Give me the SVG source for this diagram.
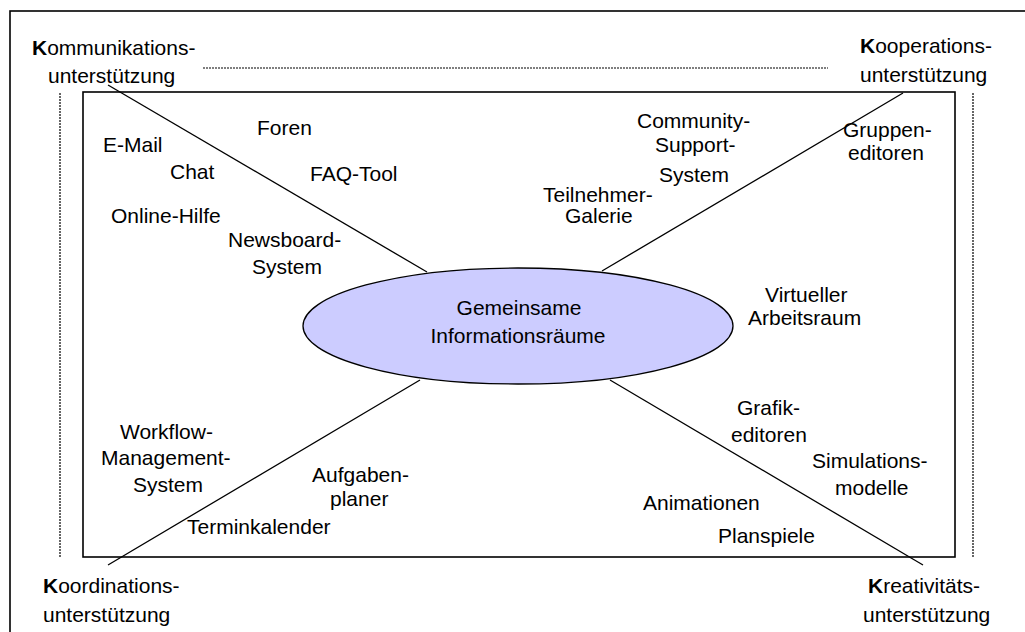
<svg xmlns="http://www.w3.org/2000/svg" width="1025" height="632" viewBox="0 0 1025 632">
<style>
text{font-family:"Liberation Sans",Arial,sans-serif;font-size:21px;fill:#000}
.k{font-weight:bold}
.frame{fill:none;stroke:#000;stroke-width:1.6}
.dot{fill:none;stroke:#000;stroke-width:1.2;stroke-dasharray:2 1}
.conn{stroke:#000;stroke-width:1.3;fill:none}
</style>
<rect width="1025" height="632" fill="#fff"/>
<rect class="frame" x="10" y="11" width="1030" height="640"/>
<rect class="frame" x="83" y="92" width="872" height="465"/>
<g id="guides">
<line class="dot" x1="203" y1="68" x2="828" y2="68"/>
<line class="dot" x1="60" y1="93" x2="60" y2="557"/>
<line class="dot" x1="973" y1="93" x2="973" y2="557"/>
</g>
<g id="connectors">
<line class="conn" x1="108" y1="85" x2="427" y2="272"/>
<line class="conn" x1="903" y1="93" x2="602" y2="271"/>
<line class="conn" x1="108" y1="565" x2="420" y2="380"/>
<line class="conn" x1="923" y1="565" x2="610" y2="380"/>
</g>
<g id="center">
<ellipse cx="518" cy="326" rx="215" ry="58" fill="#CCCCFF" stroke="#000" stroke-width="1.3"/>
<text x="519" y="315" text-anchor="middle">Gemeinsame</text>
<text x="518" y="343" text-anchor="middle">Informationsräume</text>
</g>
<g id="kommunikation">
<text x="32" y="55"><tspan class="k">K</tspan>ommunikations-</text>
<text x="48" y="83">unterstützung</text>
</g>
<g id="kooperation">
<text x="860" y="53"><tspan class="k">K</tspan>ooperations-</text>
<text x="860" y="82">unterstützung</text>
</g>
<g id="koordination">
<text x="43" y="593"><tspan class="k">K</tspan>oordinations-</text>
<text x="43" y="622">unterstützung</text>
</g>
<g id="kreativitaet">
<text x="868" y="593"><tspan class="k">K</tspan>reativitäts-</text>
<text x="863" y="622">unterstützung</text>
</g>
<g id="foren"><text x="257" y="135">Foren</text></g>
<g id="email"><text x="103" y="152">E-Mail</text></g>
<g id="chat"><text x="170" y="179">Chat</text></g>
<g id="faq"><text x="310" y="181">FAQ-Tool</text></g>
<g id="onlinehilfe"><text x="111" y="223">Online-Hilfe</text></g>
<g id="newsboard">
<text x="228" y="247">Newsboard-</text>
<text x="252" y="274">System</text>
</g>
<g id="community">
<text x="637" y="128">Community-</text>
<text x="655" y="152">Support-</text>
<text x="659" y="182">System</text>
</g>
<g id="gruppeneditoren">
<text x="843" y="137">Gruppen-</text>
<text x="848" y="160">editoren</text>
</g>
<g id="teilnehmer">
<text x="543" y="202">Teilnehmer-</text>
<text x="565" y="223">Galerie</text>
</g>
<g id="virtuell">
<text x="765" y="302">Virtueller</text>
<text x="748" y="325">Arbeitsraum</text>
</g>
<g id="workflow">
<text x="120" y="439">Workflow-</text>
<text x="101" y="465">Management-</text>
<text x="133" y="492">System</text>
</g>
<g id="aufgaben">
<text x="312" y="482">Aufgaben-</text>
<text x="330" y="506">planer</text>
</g>
<g id="termin"><text x="187" y="534">Terminkalender</text></g>
<g id="grafik">
<text x="737" y="415">Grafik-</text>
<text x="731" y="442">editoren</text>
</g>
<g id="simulation">
<text x="812" y="468">Simulations-</text>
<text x="835" y="495">modelle</text>
</g>
<g id="animation"><text x="643" y="510">Animationen</text></g>
<g id="planspiele"><text x="718" y="543">Planspiele</text></g>
</svg>
